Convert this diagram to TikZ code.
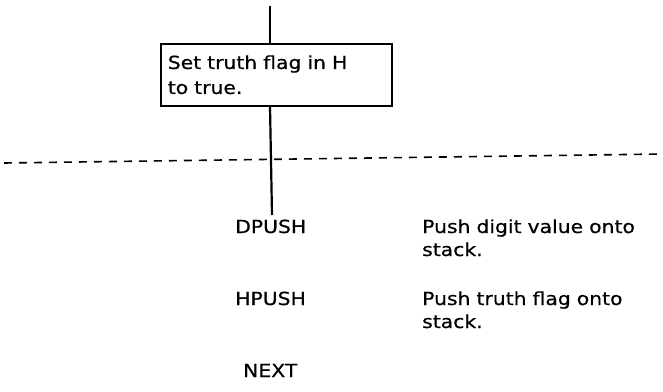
\documentclass[tikz,border=0pt]{standalone}
\usepackage{fontspec}
\setmainfont{DejaVu Sans}[FakeStretch=1.13,FakeBold=0.6]
\begin{document}
\begin{tikzpicture}[x=1pt,y=-1pt,
  flowline/.style={line width=2.2pt,black},
  stepbox/.style={draw,line width=1.6pt,anchor=north west,align=left,
    text width=217pt,inner xsep=7pt,inner ysep=11.5pt,
    font=\fontsize{18}{25}\selectfont},
  label/.style={anchor=base west,inner sep=0pt,font=\fontsize{18}{23}\selectfont},
  desc/.style={anchor=base west,inner sep=0pt,align=left,text width=230pt,
    font=\fontsize{18}{23}\selectfont}]
\useasboundingbox (0,0) rectangle (663,391);
\coordinate (top) at (270,6);
\coordinate (bot) at (272,215);
\node[stepbox] (set) at (160,43) {Set truth flag in H\\to true.};
\draw[flowline] (top) -- (top |- set.north);
\draw[flowline] (set.south -| top) -- (bot);
\coordinate (dl) at (4,163);
\coordinate (dr) at (662,154);
\draw[line width=1.6pt,dash pattern=on 8pt off 7pt] (dl) -- (dr);
\node[label] (dpush) at (235,233) {DPUSH};
\node[desc] (ddesc) at (422,233) {Push digit value onto\\stack.};
\node[label] (hpush) at (235,305) {HPUSH};
\node[desc] (hdesc) at (422,305) {Push truth flag onto\\stack.};
\node[label] (next) at (243,377) {NEXT};
\end{tikzpicture}
\end{document}
